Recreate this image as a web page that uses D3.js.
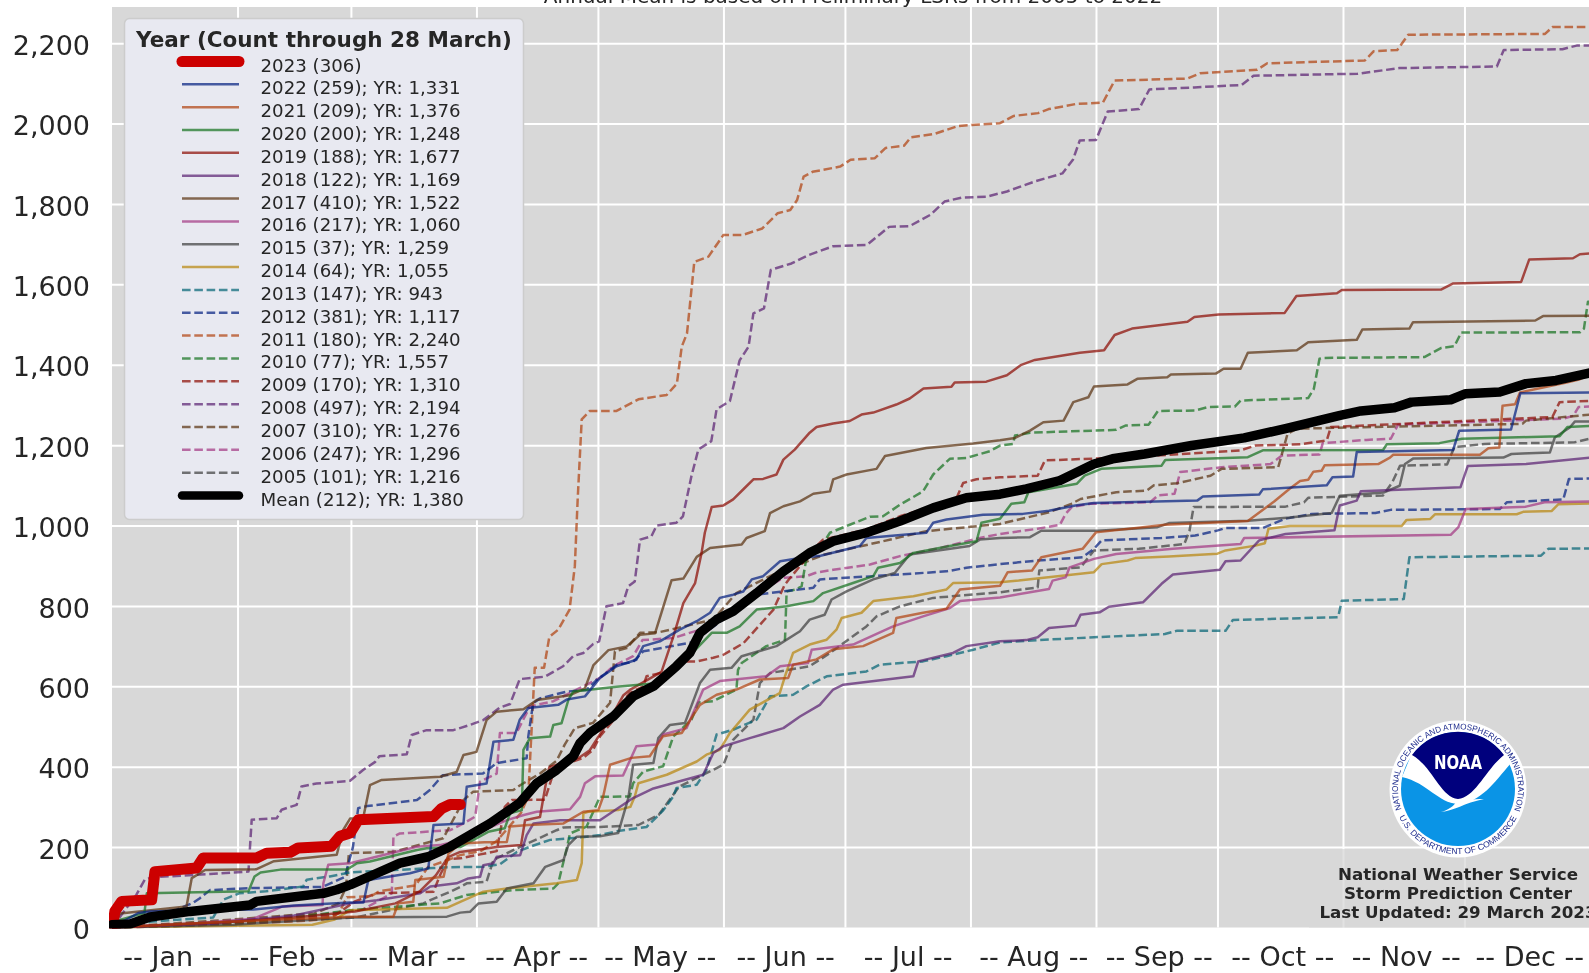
<!DOCTYPE html>
<html>
<head>
<meta charset="utf-8">
<style>
html, body { margin: 0; padding: 0; background: #fff; overflow: hidden; }
svg { display: block; filter: blur(0.35px); }
text { font-family: "DejaVu Sans", sans-serif; fill: #262626; }
.axis .domain { display: none; }
.grid line { stroke: #fff; stroke-width: 2; }
.grid text { display: none; }
</style>
<script src="https://cdn.jsdelivr.net/npm/d3@7"></script>
</head>
<body>
<script>
// values: [day of year, cumulative reports]
var y2023 = [[0,0],[0.3,11],[0.7,40],[2.4,65],[9.8,69],[10.6,139],[20.9,148],[22.5,173],[35.7,173],[38.2,185],[44,187],[46,198],[54.2,202],[56.3,227],[58.8,235],[60.8,268],[79.4,276],[81.4,296],[83.5,306],[86,306]];
var y2022 = [[0,0],[6.5,36],[9.4,40],[19.3,42],[35,45],[45,55],[58.8,62],[62.1,62],[63.3,118],[73.6,135],[78.1,147],[79.4,255],[86.8,259],[87.6,350],[92.5,358],[94.2,462],[99.1,467],[100.7,517],[102.8,546],[110.2,554],[112.3,567],[116.8,575],[120.5,621],[124.6,650],[129.5,666],[131.2,700],[135.3,712],[140.2,741],[144.4,762],[147.7,783],[150.1,820],[153.4,828],[155.9,836],[158,866],[160.8,874],[165,911],[169.9,919],[175,925],[184.7,949],[186.3,969],[201.1,982],[202.8,1007],[206.1,1015],[215.1,1027],[224.9,1029],[231.4,1037],[237.9,1050],[242.5,1056],[268,1062],[269.4,1072],[283.3,1077],[284.2,1090],[300,1100],[301.4,1120],[306.5,1122],[307.4,1183],[331.2,1188],[332.7,1236],[345.5,1239],[347.8,1329],[365,1331]];
var y2021 = [[0,0],[10,5],[30,15],[58.8,27],[69.5,27],[70.7,60],[74.4,64],[74.9,118],[81.9,126],[83.1,184],[86,209],[92,212],[97.5,213],[98.3,251],[102.8,255],[111.5,259],[116.4,288],[120.1,292],[121.3,326],[123,405],[128.3,422],[132.8,426],[136.1,476],[140.7,484],[145.2,554],[149.3,579],[154.2,592],[160,617],[167,621],[168.2,654],[174,667],[178.1,692],[185.5,700],[192.9,733],[193.7,770],[200.3,783],[206.1,793],[209.4,841],[219.3,850],[221.2,884],[227.2,888],[229.5,921],[239.7,942],[243,983],[260.1,1002],[280.5,1011],[287,1060],[290.9,1092],[293.4,1111],[295.4,1114],[296.7,1134],[298.7,1136],[299.5,1150],[312.7,1153],[315.6,1169],[316.4,1176],[337.8,1176],[339.9,1192],[342.6,1194],[343.4,1298],[346.5,1302],[347.7,1331],[359.2,1356],[362.5,1364],[365,1376]];
var y2020 = [[0,0],[1.9,19],[8,36],[8.6,85],[33.7,90],[35.2,127],[36.7,137],[41.6,144],[58,144],[60.5,160],[63.7,164],[75.3,193],[77.7,197],[86,200],[92.9,238],[97,247],[98.3,284],[101.2,292],[101.6,442],[103.2,471],[108.2,475],[109,504],[111,508],[112.7,566],[113.9,587],[124.6,599],[133.7,607],[139,640],[144,690],[148.1,733],[151.8,733],[155,749],[159.2,791],[166.6,799],[173.2,812],[175.6,832],[183,857],[188,874],[189.2,895],[194.6,907],[197.9,932],[206.9,949],[213.5,961],[214.7,1007],[219.3,1017],[222.1,1054],[225.3,1058],[226.3,1083],[238.3,1104],[240.2,1124],[244.3,1141],[259.2,1149],[260.1,1163],[280.5,1170],[284.2,1187],[313.9,1188],[314.8,1202],[327.8,1205],[333.4,1216],[357.5,1222],[359.4,1245],[365,1248]];
var y2019 = [[0,0],[20,10],[31,15],[45,25],[60,40],[70,60],[76,90],[80,130],[83,175],[86,188],[95,200],[101,205],[102,267],[105.7,275],[107,350],[108,399],[115.6,424],[118,441],[123.8,533],[126.3,578],[127.9,591],[135.7,636],[138.6,723],[141.1,807],[144,857],[145.6,932],[146.4,982],[148.1,1046],[151,1050],[153.4,1065],[156.3,1094],[158.4,1115],[160.8,1116],[164.1,1127],[165.8,1164],[168.6,1189],[172.3,1231],[174,1245],[178.1,1254],[182.2,1260],[185.1,1276],[188,1281],[193.7,1301],[197,1316],[200.4,1341],[207.3,1345],[208.1,1356],[215.9,1358],[221,1374],[224.4,1399],[227.9,1412],[239,1430],[245,1436],[247.6,1474],[251.9,1490],[265.6,1507],[267.3,1519],[273.3,1525],[289.6,1529],[292.5,1571],[302.5,1578],[303.7,1586],[328.2,1587],[331.1,1602],[348,1606],[350,1662],[360.8,1665],[362.5,1675],[365,1677]];
var y2018 = [[0,0],[25,10],[45,30],[58.8,60],[65.4,68],[76.1,85],[78.6,102],[85.1,110],[88,122],[90.9,126],[91.7,155],[94.2,160],[95,176],[100.8,180],[102.4,230],[104.1,259],[110.7,267],[120.5,267],[128.7,322],[133.7,346],[146,380],[148.5,434],[151,451],[157.5,471],[165.8,496],[169.9,525],[174.8,554],[178.1,592],[180.6,604],[197.9,625],[199.1,662],[207.7,683],[211,700],[219.3,712],[225.8,715],[228.6,722],[231.4,745],[237.9,751],[239.2,778],[243.9,784],[246.2,798],[254.6,809],[259.2,855],[262,878],[273.6,890],[275,911],[278.7,913],[283.3,963],[289.8,979],[301.9,988],[303.2,1050],[307.4,1062],[308.4,1085],[333,1095],[334.8,1148],[349.2,1153],[365,1169]];
var y2017 = [[0,0],[2,35],[18.4,52],[19.7,123],[23,143],[35.7,145],[40,165],[55.5,181],[57.1,243],[58.8,271],[62,271],[63.7,354],[66.6,367],[81,375],[85.1,387],[86.8,429],[88.4,433],[90,437],[92.5,516],[95,537],[101.6,543],[104.9,566],[113.1,578],[116.8,595],[118.9,653],[122.6,690],[127.1,699],[130.4,728],[134.1,732],[138.2,864],[141.1,868],[144.4,922],[147.7,944],[155.5,953],[156.7,969],[161.2,986],[162.5,1031],[165.8,1048],[169.9,1060],[173.2,1079],[177.3,1085],[178.1,1115],[181.4,1127],[188.8,1141],[190.9,1173],[201.1,1193],[212.7,1204],[219.3,1212],[223,1218],[226.7,1236],[230,1257],[235,1261],[237.4,1307],[241.1,1319],[242.5,1346],[250.8,1351],[253.2,1365],[260.6,1369],[261.5,1376],[272.6,1378],[274.5,1390],[278.7,1390],[280.5,1430],[292.6,1436],[295.4,1456],[307.4,1462],[308.8,1488],[320.4,1490],[321.3,1506],[351.5,1510],[353.4,1521],[365,1522]];
var y2016 = [[0,0],[20,10],[35,22],[42,52],[52,56],[52.2,110],[53.4,156],[58.8,160],[75.3,201],[81,205],[86,217],[97.5,267],[101.7,280],[104.9,288],[113.1,294],[115.6,325],[116.8,359],[119.3,376],[126.2,378],[129.5,451],[134.5,455],[136.1,480],[141.9,496],[144.4,554],[146,592],[150.1,613],[161.6,625],[165,650],[171.9,658],[172.8,691],[183,704],[192.9,749],[200.3,774],[206.9,795],[209.4,812],[219.3,821],[226.7,834],[231.4,842],[232.3,863],[235.5,871],[236.5,896],[242.5,917],[248,929],[262,942],[278.7,954],[279.6,969],[330.6,977],[332.5,996],[334.3,1041],[349.2,1047],[353.8,1058],[365,1060]];
var y2015 = [[0,0],[30,7],[58.8,25],[82.7,27],[86,37],[88.4,39],[90.5,60],[95,64],[97.5,97],[104.1,110],[107,151],[111.5,168],[112.7,205],[114.8,226],[120.5,227],[125,235],[127.5,322],[128.7,405],[133.7,409],[134.9,471],[137.8,504],[141.5,509],[145.2,608],[147.7,641],[153,646],[155.5,675],[164.1,700],[169.9,737],[172.3,766],[176,778],[177.7,816],[181.4,836],[188,866],[193.3,882],[197,928],[211.8,949],[214.3,965],[219.3,969],[226.7,971],[229.5,987],[243.4,987],[258.2,996],[261,1006],[280.5,1012],[290.9,1020],[301.2,1031],[303.2,1074],[314,1082],[318,1099],[319.3,1153],[321.4,1167],[343.6,1169],[345.6,1178],[355.1,1182],[356.3,1219],[360,1244],[361.3,1259],[365,1259]];
var y2014 = [[0,0],[35,5],[49.5,7],[55,20],[58.8,43],[82.7,49],[86,64],[91.7,89],[97.5,97],[109.8,110],[114.8,118],[116,160],[116.4,284],[117.6,288],[125,292],[128,300],[129.1,326],[130,359],[137,380],[144.4,413],[146.8,430],[150.1,442],[152.6,484],[157.5,542],[164.9,583],[166.2,625],[168.2,683],[172.3,704],[176.5,716],[178.9,741],[180.2,770],[185.1,783],[188,812],[197.9,824],[206.1,841],[207.7,857],[219.3,859],[223.9,863],[242.5,884],[244.4,904],[250.8,913],[252.7,919],[261,923],[273,930],[275,938],[282.4,950],[284.7,956],[285.6,992],[290.9,999],[318.5,999],[319.7,1014],[325.5,1016],[326.7,1028],[346.9,1028],[348.5,1034],[355.5,1036],[357.2,1053],[365,1055]];
var y2013 = [[0,0],[10,15],[25,25],[27.5,69],[31.4,85],[38,90],[47.2,102],[48.1,119],[53.8,127],[58.8,137],[79.3,148],[83.5,150],[91.6,151],[95.8,157],[100,188],[103.2,201],[108.2,218],[115.6,224],[120.5,230],[125,240],[132,250],[136,290],[138.6,326],[139.4,347],[144.4,355],[146.8,392],[149.3,480],[153.4,492],[159.2,517],[162.5,575],[168.2,579],[171.5,600],[176.5,625],[186.3,637],[189.6,654],[200.3,662],[206.1,675],[212.7,691],[219.3,709],[228.6,715],[242.5,722],[260,730],[262.9,738],[275,738],[276.8,765],[302.8,772],[303.7,813],[319,817],[320.4,921],[352.9,925],[354.7,942],[365,943]];
var y2012 = [[0,0],[10,20],[20,61],[21.7,73],[24.2,93],[34,98],[52,101],[57.5,126],[59.5,200],[60.8,297],[63,302],[75.3,317],[78.5,342],[81.7,379],[86,381],[91.6,383],[95,409],[102.4,421],[102.8,475],[104,558],[105.7,570],[112.3,587],[117.2,591],[119.7,616],[123,640],[124.6,653],[128.7,661],[131.2,687],[143.5,710],[150,760],[159.2,828],[173.2,845],[174.8,866],[188,874],[206.1,886],[211,895],[219.3,904],[228.6,913],[239.7,921],[242.5,942],[244.4,963],[259.2,969],[267.5,975],[273.1,988],[275,994],[284.2,994],[289.8,1017],[296.3,1029],[312,1031],[315.8,1039],[342.7,1041],[344.5,1058],[358.4,1065],[359.8,1116],[365,1117]];
var y2011 = [[0,0],[25,8],[45,15],[52,20],[56,35],[58,75],[64,78],[66,90],[72,100],[75,105],[78,150],[84,172],[86,180],[91,190],[95,215],[98,250],[101,285],[102.8,326],[103.2,409],[104,567],[104.4,646],[106.7,646],[108,723],[110.2,741],[113,791],[114.3,899],[115,1065],[116,1264],[118,1285],[124.6,1285],[130,1314],[137,1325],[139.5,1353],[140.7,1445],[142,1478],[143.8,1656],[147.3,1669],[151,1723],[155.8,1723],[160.6,1739],[164.4,1777],[167.5,1785],[169.2,1810],[170.8,1868],[173,1880],[179.8,1893],[182.4,1910],[188.4,1914],[191,1939],[195.6,1945],[197.3,1966],[203,1974],[209,1994],[219.3,2001],[222.7,2019],[228.7,2026],[231.3,2036],[238.2,2049],[244.7,2052],[247.6,2107],[265.6,2112],[268.7,2125],[282.8,2134],[285.3,2150],[309.4,2157],[311.6,2180],[317.4,2183],[320.1,2221],[353.9,2223],[355.7,2240],[365,2240]];
var y2010 = [[0,0],[20,5],[40,18],[58.8,43],[81,60],[87.6,81],[99.1,93],[109,97],[110.2,110],[112.3,197],[113.1,234],[117.2,251],[120.5,325],[127.9,326],[128.7,359],[131.2,388],[136.1,401],[138.6,475],[143.1,517],[144.8,560],[148.5,563],[154.2,592],[154.6,641],[155.5,658],[161.6,700],[166.2,716],[166.6,836],[169,841],[170.3,849],[171.5,919],[175.2,949],[177.3,982],[182.2,1002],[187.2,1022],[190.4,1023],[194.6,1052],[200.3,1085],[202.8,1127],[206.9,1166],[211,1168],[216.8,1185],[219.3,1199],[222.5,1203],[223,1224],[226.7,1231],[248,1238],[250.4,1249],[256,1251],[258.3,1285],[267.5,1286],[270.8,1295],[277.3,1296],[278.7,1311],[295.4,1317],[296.8,1340],[298.2,1415],[299,1417],[324.1,1419],[328.3,1442],[331.5,1446],[333.2,1480],[362.6,1481],[363.5,1490],[364.5,1557],[365,1557]];
var y2009 = [[0,0],[20,5],[40,15],[55,30],[60,65],[65.4,85],[79.4,89],[81,130],[83,170],[86,172],[95,190],[97,300],[98.7,317],[106.9,318],[109.4,397],[116.4,422],[118.8,442],[120.5,475],[124.6,525],[126.2,563],[127.9,583],[131.2,600],[132,625],[137,637],[141.9,662],[144.4,662],[148.5,671],[150.9,678],[155.9,707],[159.2,744],[163.3,790],[166.1,852],[167,864],[174,949],[175.6,965],[186.3,990],[194.6,1023],[202.8,1048],[208.6,1069],[210.2,1106],[213.5,1115],[219.3,1120],[228.6,1124],[230.4,1162],[251.8,1170],[278.7,1187],[282.4,1199],[293.5,1202],[300,1212],[301,1245],[355.7,1270],[357.5,1307],[365,1310]];
var y2008 = [[0,0],[6,81],[8.1,119],[10,125],[24.2,133],[33.7,139],[34.5,268],[40.7,272],[41.9,293],[45.6,305],[46.8,351],[50.5,358],[58.8,365],[62,392],[65,412],[66,426],[72.8,431],[74,479],[77.7,491],[84.3,491],[88.4,504],[91.7,516],[95.8,547],[98.3,556],[100.7,618],[104.9,622],[106.9,624],[111.4,650],[113.9,675],[116.4,683],[118.8,705],[120.3,712],[122.1,799],[126.2,807],[127.5,849],[129.1,861],[130.4,965],[133.2,973],[134.5,1000],[139.4,1007],[141,1023],[143.1,1123],[144.8,1189],[148,1210],[149.3,1289],[152.6,1310],[155,1411],[157.2,1445],[158.4,1528],[161,1540],[162.7,1636],[167.8,1652],[172.1,1673],[178.1,1695],[186.4,1698],[191.9,1743],[197,1745],[202.1,1773],[205.6,1806],[209.9,1816],[215.9,1818],[221,1831],[227.9,1856],[234.7,1876],[237.3,1910],[239,1958],[243,1959],[245.9,2030],[253.6,2036],[256.2,2085],[267.3,2090],[279,2096],[281.9,2119],[307.6,2124],[317.9,2138],[342,2142],[343.7,2183],[358.2,2185],[361.7,2194],[365,2194]];
var y2007 = [[0,0],[30,20],[50,35],[56,60],[57.8,100],[58.5,185],[69.5,188],[81.8,222],[85.1,284],[86.8,317],[89.2,338],[99.1,342],[100.8,354],[105.7,383],[109.8,415],[111.8,455],[114.3,496],[118.8,509],[123,559],[124.2,687],[127.1,695],[130.4,733],[135.3,735],[148.5,766],[154.2,832],[163.3,878],[176,928],[190.4,961],[201.1,986],[219.3,1004],[231.4,1033],[236.9,1054],[239.2,1066],[248,1083],[255.5,1087],[257.3,1100],[262.9,1105],[264.3,1108],[271.3,1124],[274,1141],[288,1145],[290.3,1228],[292.6,1241],[348.3,1253],[349.2,1261],[365,1276]];
var y2006 = [[0,0],[20,5],[50,30],[62,45],[69.1,85],[69.5,226],[71.1,234],[83.5,242],[86.8,259],[89.7,276],[90.9,363],[95,383],[95.8,484],[99.9,484],[103.2,550],[109,563],[113,583],[120.5,621],[123.8,650],[128.7,675],[131,715],[138.6,720],[145.2,741],[153.4,783],[161.6,845],[165.8,870],[171.5,874],[173.6,882],[178.1,890],[187.2,903],[194.6,924],[204.4,944],[214.3,969],[219.3,979],[228.6,992],[234.1,1002],[235.5,1029],[237,1046],[241.6,1054],[256.4,1058],[258.3,1075],[262.4,1079],[263.8,1133],[274,1145],[286.1,1153],[288.9,1174],[298.2,1177],[299,1205],[309.8,1213],[315.8,1216],[317.6,1251],[358.4,1266],[360.9,1273],[362.2,1295],[365,1296]];
var y2005 = [[0,0],[30,10],[60,25],[76.9,60],[78.6,68],[83.5,89],[86,101],[87.6,110],[92.5,114],[94.2,168],[100,197],[109.8,242],[111.5,249],[120.5,250],[130,255],[135,280],[140,350],[145.2,376],[151,405],[153.4,467],[158.4,517],[160,608],[162.5,633],[172.3,650],[177.3,683],[186.3,749],[188.8,774],[194.6,799],[202.8,820],[219.3,834],[228.6,846],[229,888],[239.2,896],[242.5,938],[253.6,942],[264.8,954],[266.1,987],[267.1,1046],[289.8,1047],[294.4,1058],[295.4,1069],[313.9,1075],[316.2,1108],[318.1,1149],[329.7,1152],[331.5,1195],[339,1203],[361.2,1207],[365,1216]];
var yMean = [[0,7],[4.5,9],[9.4,26],[19.3,40],[34.1,56],[35.7,65],[52.2,85],[55.5,94],[58.8,106],[65.4,135],[71.1,160],[78.1,176],[83.5,201],[88.4,230],[93.4,259],[100.7,310],[104.9,359],[109.8,392],[113.9,426],[115.6,459],[118,484],[123.8,525],[128.7,575],[133.7,600],[139.4,650],[142.7,683],[145.2,733],[149.3,766],[153.4,787],[159.2,832],[165.8,886],[172.3,932],[178.1,961],[186.3,982],[194.6,1011],[202.8,1044],[211,1069],[219.3,1078],[225.8,1091],[234.1,1112],[242.5,1153],[247.1,1166],[255,1178],[266.6,1199],[279.6,1218],[289.8,1241],[303.3,1274],[308.4,1285],[316.7,1293],[320.9,1307],[330.6,1313],[334.3,1328],[342.7,1332],[349.2,1353],[356.6,1361],[365,1380]];

var thinSeries = [y2022, y2021, y2020, y2019, y2018, y2017, y2016, y2015, y2014, y2013, y2012, y2011, y2010, y2009, y2008, y2007, y2006, y2005];
var legendLabels = ["2023 (306)", "2022 (259); YR: 1,331", "2021 (209); YR: 1,376", "2020 (200); YR: 1,248", "2019 (188); YR: 1,677", "2018 (122); YR: 1,169", "2017 (410); YR: 1,522", "2016 (217); YR: 1,060", "2015 (37); YR: 1,259", "2014 (64); YR: 1,055", "2013 (147); YR: 943", "2012 (381); YR: 1,117", "2011 (180); YR: 2,240", "2010 (77); YR: 1,557", "2009 (170); YR: 1,310", "2008 (497); YR: 2,194", "2007 (310); YR: 1,276", "2006 (247); YR: 1,296", "2005 (101); YR: 1,216", "Mean (212); YR: 1,380"];
var monthNames = ["Jan", "Feb", "Mar", "Apr", "May", "Jun", "Jul", "Aug", "Sep", "Oct", "Nov", "Dec"];
var monthStarts = [0, 31, 59, 90, 120, 151, 181, 212, 243, 273, 304, 334];
var monthLabelDays = [14.75, 44.25, 74, 104.75, 135.25, 166.25, 196.5, 227.5, 258.5, 289, 319.5, 350];
var yTicks = [0, 200, 400, 600, 800, 1000, 1200, 1400, 1600, 1800, 2000, 2200];
var palette = ["#001c7f", "#b1400d", "#12711c", "#8c0800", "#591e71", "#592f0d", "#a23582", "#3c3c3c", "#b8850a", "#006374"];

var width = 1589, height = 973;
var plotLeft = 112, plotTop = 7, plotBottom = 927.5;

var svg = d3.select("body").append("svg")
    .attr("width", width)
    .attr("height", height);

var x = d3.scaleLinear().domain([0, 365]).range([plotLeft, 1590]);
var y = d3.scaleLinear().domain([0, 2290]).range([plotBottom, plotTop]);

svg.append("rect")
    .attr("x", plotLeft)
    .attr("y", plotTop)
    .attr("width", width - plotLeft)
    .attr("height", plotBottom - plotTop)
    .attr("fill", "#d8d8d8");

svg.append("text")
    .attr("x", 853)
    .attr("y", 3)
    .attr("text-anchor", "middle")
    .style("font-size", "20px")
    .text("Annual Mean is based on Preliminary LSRs from 2005 to 2022");

// gridlines
svg.append("g")
    .attr("class", "grid axis")
    .attr("transform", `translate(0, ${plotBottom})`)
    .call(d3.axisBottom(x).tickValues(monthStarts.slice(1)).tickSize(-(plotBottom - plotTop)).tickFormat(""));

svg.append("g")
    .attr("class", "grid axis")
    .attr("transform", `translate(${plotLeft}, 0)`)
    .call(d3.axisLeft(y).tickValues(yTicks.slice(1)).tickSize(-(width - plotLeft)).tickFormat(""));

// tick labels
var yAxis = svg.append("g")
    .attr("class", "axis")
    .attr("transform", `translate(${plotLeft}, 0)`)
    .call(d3.axisLeft(y).tickValues(yTicks).tickSize(0).tickPadding(22).tickFormat(d3.format(",")));
yAxis.selectAll("text").style("font-size", "27px").style("fill", "#262626").attr("dy", "0.41em");

var xAxis = svg.append("g")
    .attr("class", "axis")
    .attr("transform", `translate(0, ${plotBottom})`)
    .call(d3.axisBottom(x).tickValues(monthLabelDays).tickSize(0).tickPadding(0)
        .tickFormat((d, i) => `-- ${monthNames[i]} --`));
xAxis.selectAll("text").style("font-size", "27px").style("fill", "#262626").attr("y", 38).attr("dy", 0);

// lines
svg.append("clipPath").attr("id", "plotClip")
    .append("rect")
    .attr("x", plotLeft - 3)
    .attr("y", plotTop)
    .attr("width", width)
    .attr("height", plotBottom - plotTop + 1);

var line = d3.line().x(d => x(d[0])).y(d => y(d[1]));
var lines = svg.append("g").attr("clip-path", "url(#plotClip)");

thinSeries.slice().reverse().forEach(function(s) {
    var i = thinSeries.indexOf(s);
    lines.append("path")
        .attr("d", line(s))
        .attr("fill", "none")
        .attr("stroke", palette[i % 10])
        .attr("stroke-opacity", 0.7)
        .attr("stroke-width", 2.5)
        .attr("stroke-linejoin", "round")
        .attr("stroke-dasharray", i >= 9 ? "8.6,3.7" : null);
});

lines.append("path")
    .attr("d", line(y2023))
    .attr("fill", "none")
    .attr("stroke", "#cc0000")
    .attr("stroke-width", 11)
    .attr("stroke-linecap", "round")
    .attr("stroke-linejoin", "round");

lines.append("path")
    .attr("d", line(yMean))
    .attr("fill", "none")
    .attr("stroke", "#000")
    .attr("stroke-width", 9.5)
    .attr("stroke-linecap", "round")
    .attr("stroke-linejoin", "round");

// legend
var legend = svg.append("g");
legend.append("rect")
    .attr("x", 124.5)
    .attr("y", 18.5)
    .attr("width", 399)
    .attr("height", 501)
    .attr("rx", 5)
    .attr("fill", "#e8e9f1")
    .attr("stroke", "#cccccc")
    .attr("stroke-width", 1.5);

legend.append("text")
    .attr("x", 324)
    .attr("y", 47)
    .attr("text-anchor", "middle")
    .style("font-size", "21.5px")
    .style("font-weight", "bold")
    .text("Year (Count through 28 March)");

var rowY = d3.scaleLinear().domain([0, 19]).range([65, 499]);

legend.selectAll("text.row")
    .data(legendLabels)
    .enter()
    .append("text")
    .attr("class", "row")
    .attr("x", 260.5)
    .attr("y", (d, i) => rowY(i) + 6.5)
    .style("font-size", "18.2px")
    .text(d => d);

legend.selectAll("line.key")
    .data(legendLabels)
    .enter()
    .append("line")
    .attr("class", "key")
    .attr("x1", 182)
    .attr("x2", 239)
    .attr("y1", (d, i) => rowY(i) - 3.5)
    .attr("y2", (d, i) => rowY(i) - 3.5)
    .attr("stroke", (d, i) => i == 0 ? "#cc0000" : i == 19 ? "#000" : palette[(i - 1) % 10])
    .attr("stroke-opacity", (d, i) => i == 0 || i == 19 ? 1 : 0.7)
    .attr("stroke-width", (d, i) => i == 0 ? 11 : i == 19 ? 8.5 : 2.5)
    .attr("stroke-linecap", (d, i) => i == 0 || i == 19 ? "round" : "butt")
    .attr("stroke-dasharray", (d, i) => i >= 10 && i < 19 ? "8.6,3.7" : null);

// NOAA logo and credit box
svg.append("rect")
    .attr("x", 1309)
    .attr("y", 849)
    .attr("width", 280)
    .attr("height", 78.5)
    .attr("fill", "#d8d8d8")
    .attr("fill-opacity", 0.75);

var logo = svg.append("g").attr("transform", "translate(1458, 789)");
logo.append("circle").attr("r", 68.5).attr("fill", "#fff");
logo.append("circle").attr("r", 57).attr("fill", "#0a94e6");
logo.append("path")
    .attr("d", "M-56,-12 C-30,-6 -20,14 0,15 C22,14 36,-6 53,-26 L46,-36 L-46,-36 Z")
    .attr("fill", "#fff");
logo.append("path")
    .attr("d", "M-46,-34 C-25,-22 -18,8 0,10 C18,8 28,-20 46,-34 A57,57 0 0 0 -46,-34 Z")
    .attr("fill", "#00007d");
logo.append("path")
    .attr("d", "M-17,23 C-4,22 6,14 26,10 C14,10 6,11 -2,13 C-4,17 -10,21 -17,23 Z")
    .attr("fill", "#fff");
logo.append("text")
    .attr("y", -20)
    .attr("text-anchor", "middle")
    .attr("textLength", 48)
    .attr("lengthAdjust", "spacingAndGlyphs")
    .style("font-size", "19px")
    .style("font-weight", "bold")
    .style("fill", "#fff")
    .text("NOAA");

logo.append("path").attr("id", "ringTop").attr("fill", "none")
    .attr("d", "M-56.5,20.5 A60,60 0 1 1 56.5,20.5");
logo.append("path").attr("id", "ringBottom").attr("fill", "none")
    .attr("d", "M-59,28 A65.5,65.5 0 0 0 59,28");

logo.append("text")
    .style("font-size", "8.4px")
    .style("fill", "#1c2a8c")
    .style("font-family", "'Liberation Sans', sans-serif")
    .append("textPath")
    .attr("href", "#ringTop")
    .attr("textLength", 230)
    .attr("lengthAdjust", "spacingAndGlyphs")
    .text("NATIONAL OCEANIC AND ATMOSPHERIC ADMINISTRATION");

logo.append("text")
    .style("font-size", "8.4px")
    .style("fill", "#1c2a8c")
    .style("font-family", "'Liberation Sans', sans-serif")
    .append("textPath")
    .attr("href", "#ringBottom")
    .attr("textLength", 146)
    .attr("lengthAdjust", "spacingAndGlyphs")
    .text("U.S. DEPARTMENT OF COMMERCE");

var creditLines = ["National Weather Service", "Storm Prediction Center", "Last Updated: 29 March 2023"];
svg.selectAll("text.credit")
    .data(creditLines)
    .enter()
    .append("text")
    .attr("class", "credit")
    .attr("x", 1458)
    .attr("y", (d, i) => 880 + i * 19)
    .attr("text-anchor", "middle")
    .style("font-size", "16.7px")
    .style("font-weight", "bold")
    .text(d => d);
</script>
</body>
</html>
